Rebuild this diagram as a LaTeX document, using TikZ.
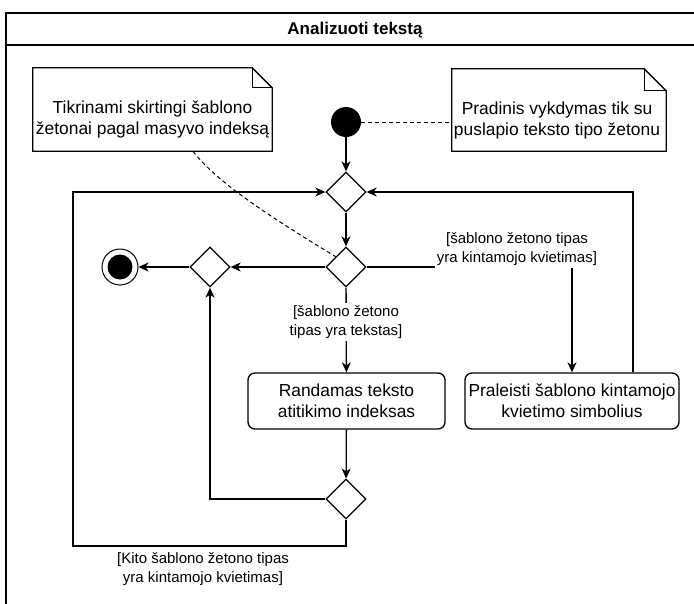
\documentclass[tikz,border=0pt]{standalone}
\usepackage{fontspec}
\setmainfont{Liberation Sans}
\usetikzlibrary{arrows.meta,shapes.geometric}

\newcommand{\bodyfont}{\fontsize{17.4}{21}\selectfont}
\newcommand{\guardfont}{\fontsize{15}{19}\selectfont}

\tikzset{
  frameline/.style={line width=1.6pt},
  flow/.style={line width=1.3pt, -{Stealth[length=10pt,width=9pt,inset=3pt]}},
  decision/.style={diamond, draw, line width=1.3pt, minimum width=40pt,
    minimum height=40pt, inner sep=0pt, fill=white},
  action/.style={rectangle, rounded corners=7pt, draw, line width=1.3pt,
    minimum height=56pt, align=center, font=\bodyfont, inner sep=2pt},
  notebox/.style={rectangle, inner sep=0pt},
  noteline/.style={line width=1.3pt},
  notetext/.style={align=center, font=\bodyfont, inner sep=0pt},
  guard/.style={align=center, font=\guardfont, fill=white, inner sep=2pt},
  anchorline/.style={line width=1pt, dash pattern=on 4pt off 3pt},
}

\begin{document}
\begin{tikzpicture}[x=1pt, y=-1pt]
  \useasboundingbox (0,0) rectangle (694,603);
  \fill[white] (0,0) rectangle (694,603);

  % activity frame with its title bar
  \draw[frameline] (6,610) -- (6,13) -- (700,13);
  \draw[frameline] (6,45) -- (700,45);
  \node[font=\bfseries\fontsize{17}{20}\selectfont] (title) at (355,30.5) {Analizuoti tekstą};

  % comment notes
  \node[notebox, minimum width=239pt, minimum height=83pt] (n1) at (152.5,109.5) {};
  \draw[noteline] (n1.north west) -- ([xshift=-20pt]n1.north east)
    -- ([yshift=-20pt]n1.north east) -- (n1.south east) -- (n1.south west) -- cycle;
  \draw[noteline] ([xshift=-20pt]n1.north east) |- ([yshift=-20pt]n1.north east);
  \node[notetext] (n1t) at (152.5,119) {Tikrinami skirtingi šablono\\žetonai pagal masyvo indeksą};

  \node[notebox, minimum width=214pt, minimum height=82pt] (n2) at (559,110) {};
  \draw[noteline] (n2.north west) -- ([xshift=-22pt]n2.north east)
    -- ([yshift=-22pt]n2.north east) -- (n2.south east) -- (n2.south west) -- cycle;
  \draw[noteline] ([xshift=-22pt]n2.north east) |- ([yshift=-22pt]n2.north east);
  \node[notetext] (n2t) at (557,120) {Pradinis vykdymas tik su\\puslapio teksto tipo žetonu};

  % initial and final nodes
  \node[circle, fill=black, minimum size=30pt, inner sep=0pt] (start) at (346,122) {};
  \node[circle, draw, line width=1pt, fill=white, minimum size=36pt, inner sep=0pt] (end) at (120,267) {};
  \node[circle, fill=black, minimum size=25pt, inner sep=0pt] (endcore) at (end) {};

  % decisions and merges
  \node[decision] (d1) at (346,192) {};
  \node[decision] (d2) at (346,267) {};
  \node[decision] (d3) at (210,267) {};
  \node[decision] (d4) at (346,499) {};

  % actions
  \node[action, minimum width=197pt] (find) at (346.5,401) {Randamas teksto\\atitikimo indeksas};
  \node[action, minimum width=214pt] (skip) at (572,401) {Praleisti šablono kintamojo\\kvietimo simbolius};

  % note anchors
  \draw[anchorline] (start) -- (start -| n2.west);
  \draw[anchorline] ([xshift=40.5pt]n1.south) .. controls (215,180) and (262,212) .. (d2.north west);

  % control flow
  \draw[flow] (start) -- (d1);
  \draw[flow] (d1) -- (d2);
  \draw[flow] (d2) -- (d3);
  \draw[flow] (d3) -- (end);
  \draw[flow] (d2.east) -| (skip.north);
  \node[guard] (g1) at (517,249.5) {[šablono žetono tipas\\yra kintamojo kvietimas]};
  \draw[flow] ([xshift=61pt]skip.north) |- (d1.east);
  \draw[flow] (d2) -- (find);
  \node[guard] (g2) at (346,322) {[šablono žetono\\tipas yra tekstas]};
  \draw[flow] (find) -- (d4);
  \draw[flow] (d4.west) -| (d3.south);
  \coordinate (loopL) at (73,546);
  \draw[flow] (d4.south) |- (loopL) |- (d1.west);
  \node[guard, fill=none] (g3) at (203,569) {[Kito šablono žetono tipas\\yra kintamojo kvietimas]};
\end{tikzpicture}
\end{document}
